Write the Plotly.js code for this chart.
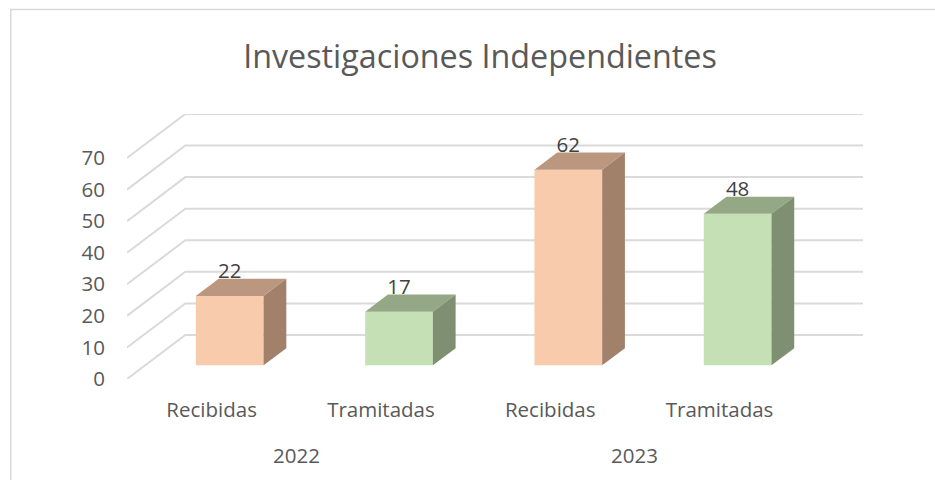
<!DOCTYPE html>
<html>
<head>
<meta charset="utf-8">
<script src="https://cdn.plot.ly/plotly-3.0.1.min.js"></script>
<style>html,body{margin:0;padding:0;background:#fff;overflow:hidden}#chart{width:935px;height:480px}</style>
</head>
<body>
<div id="chart"></div>
<script>
const years = ['2022', '2022', '2023', '2023'];
const categories = ['Recibidas', 'Tramitadas', 'Recibidas', 'Tramitadas'];
const values = [22, 17, 62, 48];
const yTicks = [0, 10, 20, 30, 40, 50, 60, 70];
const frontColors = ['#F8CBAD', '#C5E0B4', '#F8CBAD', '#C5E0B4'];
const topColors = ['#BC977F', '#95A886', '#BC977F', '#95A886'];
const sideColors = ['#A2816B', '#7F8F72', '#A2816B', '#7F8F72'];

// plot frame in pixels
const W = 935, H = 480;
const L = 126.7, R = 862.7, T = 114, B = 378.7;
const pxPerCat = 169.3, pxPerVal = 3.153;
const depthPxX = 58.3, depthPxY = 44;
const dX = depthPxX / pxPerCat, dY = depthPxY / pxPerVal;   // full floor depth in data units
const xMax = (R - L) / pxPerCat, yMax = (B - T) / pxPerVal;
const barFront = 0.31, barDepth = 0.39, barWidth = 0.4;

const traces = [];
// grid
const gx = [], gy = [];
yTicks.forEach(v => {
  gx.push(0, dX, xMax, null);
  gy.push(v, v + dY, v + dY, null);
});
traces.push({type:'scatter', mode:'lines', x:gx, y:gy, line:{color:'#DADADA', width:2},
  cliponaxis:false, hoverinfo:'skip', showlegend:false, zorder:-1});

// bars: front face
const base0 = barFront * dY;
const centers = values.map((v, i) => i + 0.5 + barFront * dX);
traces.push({type:'bar', x:centers, y:values, base:values.map(() => base0), width:barWidth,
  marker:{color:frontColors, line:{width:0}}, cliponaxis:false, hoverinfo:'skip', showlegend:false, zorder:1});

// bars: top and side faces
const ox = barDepth * dX, oy = barDepth * dY;
values.forEach((v, i) => {
  const x0 = centers[i] - barWidth / 2, x1 = centers[i] + barWidth / 2;
  const yb = base0, yt = base0 + v;
  traces.push({type:'scatter', mode:'none', fill:'toself', fillcolor:topColors[i],
    x:[x0, x1, x1 + ox, x0 + ox, x0], y:[yt, yt, yt + oy, yt + oy, yt],
    cliponaxis:false, hoverinfo:'skip', showlegend:false, zorder:1});
  traces.push({type:'scatter', mode:'none', fill:'toself', fillcolor:sideColors[i],
    x:[x1, x1 + ox, x1 + ox, x1, x1], y:[yb, yb + oy, yt + oy, yt, yb],
    cliponaxis:false, hoverinfo:'skip', showlegend:false, zorder:1});
});

// data labels
traces.push({type:'scatter', mode:'text', x:centers, y:values.map(v => base0 + v + 7.2),
  text:values.map(String), textposition:'middle center',
  textfont:{family:'"Open Sans", sans-serif', size:20.5, color:'#404040'},
  cliponaxis:false, hoverinfo:'skip', showlegend:false, zorder:2});

// year labels
const yearNames = [...new Set(years)];
const annotations = yearNames.map(y => {
  const idx = years.map((v, i) => v === y ? i + 0.5 : null).filter(v => v !== null);
  return {text:y, x:idx.reduce((a, b) => a + b, 0) / idx.length, xref:'x',
    y:(B - 454.5) / (B - T), yref:'paper', xanchor:'center', yanchor:'middle', showarrow:false,
    font:{family:'"Open Sans", sans-serif', size:20.5, color:'#595959'}};
});

const layout = {
  width:W, height:H, paper_bgcolor:'#fff', plot_bgcolor:'rgba(0,0,0,0)',
  margin:{l:L, r:W - R, t:T, b:H - B, pad:0},
  barmode:'overlay', showlegend:false, hovermode:false,
  title:{text:'Investigaciones Independientes', x:480 / W, xref:'container', xanchor:'center',
    y:1 - 57 / H, yref:'container', yanchor:'middle',
    font:{family:'"Open Sans", sans-serif', size:32.3, color:'#595959'}},
  xaxis:{type:'linear', range:[0, xMax], tickmode:'array', tickvals:categories.map((c, i) => i + 0.5),
    ticktext:categories, showgrid:false, zeroline:false, showline:false,
    ticks:'outside', ticklen:12, tickcolor:'rgba(0,0,0,0)', tickwidth:1,
    tickfont:{family:'"Open Sans", sans-serif', size:20.5, color:'#595959'}},
  yaxis:{type:'linear', range:[0, yMax], tickmode:'array', tickvals:yTicks, ticktext:yTicks.map(String),
    showgrid:false, zeroline:false, showline:false,
    ticks:'outside', ticklen:17, tickcolor:'rgba(0,0,0,0)', tickwidth:1,
    tickfont:{family:'"Open Sans", sans-serif', size:20.5, color:'#595959'}},
  annotations:annotations,
  shapes:[{type:'path', xref:'paper', yref:'paper',
    path:'M' + (10.5 - L) / (R - L) + ',' + (B - 490) / (B - T) +
         ' L' + (10.5 - L) / (R - L) + ',' + (B - 9.5) / (B - T) +
         ' L' + (945 - L) / (R - L) + ',' + (B - 9.5) / (B - T),
    line:{color:'#D9D9D9', width:1.5}, layer:'below'}]
};
Plotly.newPlot('chart', traces, layout, {displayModeBar:false, staticPlot:true});
</script>
</body>
</html>
